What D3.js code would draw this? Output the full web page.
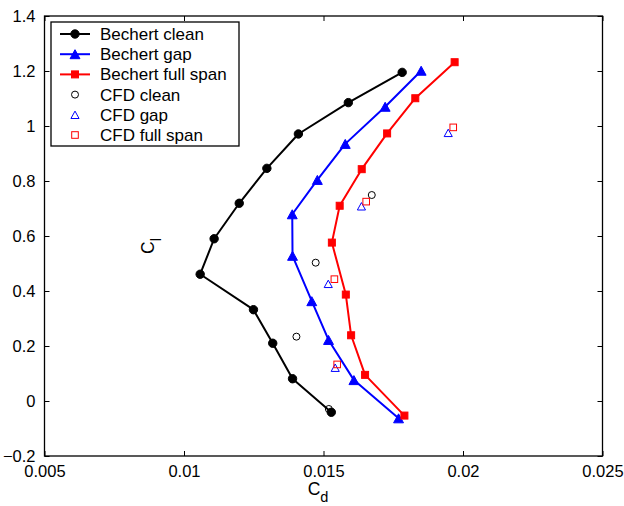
<!DOCTYPE html>
<html>
<head>
<meta charset="utf-8">
<script src="https://cdn.jsdelivr.net/npm/d3@7"></script>
<style>
  html, body { margin: 0; padding: 0; background: #fff; }
  svg { display: block; }
  text { font-family: "Liberation Sans", Arial, Helvetica, sans-serif; fill: #000; }
</style>
</head>
<body>
<svg id="chart" width="624" height="506"></svg>
<script>
// Drag polar data: lift coefficient vs drag coefficient
const becherClean = [
  [0.01782, 1.195], [0.01589, 1.085], [0.01410, 0.971], [0.01297, 0.846],
  [0.01198, 0.719], [0.01108, 0.590], [0.01058, 0.461], [0.01249, 0.332],
  [0.01318, 0.210], [0.01389, 0.081], [0.01528, -0.041]
];
const becherGap = [
  [0.01850, 1.201], [0.01721, 1.070], [0.01578, 0.935], [0.01478, 0.804],
  [0.01388, 0.679], [0.01389, 0.528], [0.01458, 0.363], [0.01518, 0.222],
  [0.01609, 0.076], [0.01769, -0.063]
];
const becherFull = [
  [0.01970, 1.232], [0.01829, 1.101], [0.01728, 0.973], [0.01637, 0.843],
  [0.01558, 0.710], [0.01530, 0.576], [0.01580, 0.387], [0.01599, 0.239],
  [0.01649, 0.095], [0.01790, -0.053]
];
const cfdClean = [[0.01673, 0.749], [0.01472, 0.503], [0.01403, 0.234], [0.01519, -0.029]];
const cfdGap = [[0.01947, 0.975], [0.01636, 0.708], [0.01517, 0.426], [0.01542, 0.121]];
const cfdFull = [[0.01965, 0.995], [0.01653, 0.725], [0.01539, 0.443], [0.01549, 0.133]];

const xTicks = [0.005, 0.01, 0.015, 0.02, 0.025];
const xTickLabels = ["0.005", "0.01", "0.015", "0.02", "0.025"];
const yTicks = [-0.2, 0, 0.2, 0.4, 0.6, 0.8, 1.0, 1.2, 1.4];
const yTickLabels = ["\u22120.2", "0", "0.2", "0.4", "0.6", "0.8", "1", "1.2", "1.4"];

const seriesNames = ["Bechert clean", "Bechert gap", "Bechert full span", "CFD clean", "CFD gap", "CFD full span"];
const seriesColors = ["#000000", "#0000ff", "#ff0000", "#000000", "#0000ff", "#ff0000"];

const svg = d3.select("#chart");
const plotLeft = 44.5, plotRight = 602.5, plotTop = 16, plotBottom = 456;
const fs = 16.5;

const x = d3.scaleLinear().domain([0.005, 0.025]).range([plotLeft, plotRight]);
const y = d3.scaleLinear().domain([-0.2, 1.4]).range([plotBottom, plotTop]);

// axes with inward ticks on all four sides
const tick = 5;
svg.append("g").attr("transform", `translate(0,${plotBottom})`)
  .call(d3.axisBottom(x).tickValues(xTicks).tickSizeInner(-tick).tickSizeOuter(0)
        .tickPadding(9).tickFormat((d, i) => xTickLabels[i]));
svg.append("g").attr("transform", `translate(0,${plotTop})`)
  .call(d3.axisTop(x).tickValues(xTicks).tickSizeInner(-tick).tickSizeOuter(0).tickFormat(""));
svg.append("g").attr("transform", `translate(${plotLeft},0)`)
  .call(d3.axisLeft(y).tickValues(yTicks).tickSizeInner(-tick).tickSizeOuter(0)
        .tickPadding(9).tickFormat((d, i) => yTickLabels[i]));
svg.append("g").attr("transform", `translate(${plotRight},0)`)
  .call(d3.axisRight(y).tickValues(yTicks).tickSizeInner(-tick).tickSizeOuter(0).tickFormat(""));

svg.selectAll(".domain").remove();
svg.selectAll(".tick line").attr("stroke", "#000").attr("stroke-width", 1);
svg.selectAll(".tick text").attr("font-size", fs).attr("font-family", "Liberation Sans, Arial, sans-serif").attr("fill", "#000");

svg.append("rect")
  .attr("x", plotLeft).attr("y", plotTop).attr("width", plotRight - plotLeft).attr("height", plotBottom - plotTop)
  .attr("fill", "none").attr("stroke", "#000").attr("stroke-width", 1.3);

// axis labels with subscripts
const xl = svg.append("text").attr("x", 318).attr("y", 495).attr("text-anchor", "middle").attr("font-size", fs + 1);
xl.append("tspan").text("C");
xl.append("tspan").attr("dy", 7).attr("font-size", fs - 2).text("d");

const yl = svg.append("text").attr("transform", "translate(154,246) rotate(-90)").attr("text-anchor", "middle").attr("font-size", fs + 1);
yl.append("tspan").text("C");
yl.append("tspan").attr("dy", 7).attr("font-size", fs - 2).text("l");

// marker shapes
function marker(g, kind, color, filled, size) {
  if (kind === "circle") {
    return g.append("circle").attr("r", size)
      .attr("fill", filled ? color : "none").attr("stroke", color).attr("stroke-width", 1);
  }
  if (kind === "triangle") {
    const h = size, w = size * 1.1;
    return g.append("path").attr("d", `M0,${-h}L${w},${h}L${-w},${h}Z`)
      .attr("fill", filled ? color : "none").attr("stroke", color).attr("stroke-width", 1);
  }
  return g.append("rect").attr("x", -size).attr("y", -size).attr("width", 2 * size).attr("height", 2 * size)
    .attr("fill", filled ? color : "none").attr("stroke", color).attr("stroke-width", 1);
}

const line = d3.line().x(d => x(d[0])).y(d => y(d[1]));
const lined = [
  { data: becherClean, color: seriesColors[0], kind: "circle", size: 4.2 },
  { data: becherGap, color: seriesColors[1], kind: "triangle", size: 4.5 },
  { data: becherFull, color: seriesColors[2], kind: "square", size: 3.5 }
];
const open = [
  { data: cfdClean, color: seriesColors[3], kind: "circle", size: 3.5 },
  { data: cfdGap, color: seriesColors[4], kind: "triangle", size: 3.7 },
  { data: cfdFull, color: seriesColors[5], kind: "square", size: 3.3 }
];

lined.forEach(s => {
  svg.append("path").datum(s.data).attr("d", line)
    .attr("fill", "none").attr("stroke", s.color).attr("stroke-width", 2).attr("stroke-linejoin", "round");
  s.data.forEach(d => {
    const g = svg.append("g").attr("transform", `translate(${x(d[0])},${y(d[1])})`);
    marker(g, s.kind, s.color, true, s.size);
  });
});
open.forEach(s => {
  s.data.forEach(d => {
    const g = svg.append("g").attr("transform", `translate(${x(d[0])},${y(d[1])})`);
    marker(g, s.kind, s.color, false, s.size);
  });
});

// legend
const lg = svg.append("g");
lg.append("rect").attr("x", 51).attr("y", 22).attr("width", 188).attr("height", 124)
  .attr("fill", "#fff").attr("stroke", "#000").attr("stroke-width", 1.3);
const all = lined.concat(open);
all.forEach((s, i) => {
  const cy = 34 + i * 20.2;
  const g = lg.append("g").attr("transform", `translate(0,${cy})`);
  if (i < 3) {
    g.append("line").attr("x1", 60).attr("x2", 90).attr("y1", 0).attr("y2", 0)
      .attr("stroke", s.color).attr("stroke-width", 2);
  }
  const m = g.append("g").attr("transform", "translate(75,0)");
  marker(m, s.kind, s.color, i < 3, s.size);
  g.append("text").attr("x", 100).attr("y", 0).attr("dy", "0.35em")
    .attr("font-size", fs + 0.5).text(seriesNames[i]);
});
</script>
</body>
</html>
